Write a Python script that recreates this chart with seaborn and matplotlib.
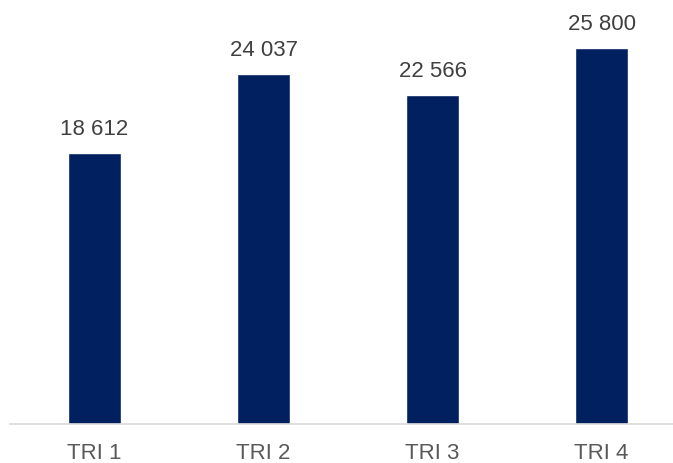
import matplotlib
matplotlib.use("Agg")
import matplotlib.pyplot as plt
import seaborn as sns
import pandas as pd

# -- data --
quarters = ["TRI 1", "TRI 2", "TRI 3", "TRI 4"]
values = [18612, 24037, 22566, 25800]

sns.set_style("white")
plt.rcParams["font.family"] = ["Liberation Sans", "DejaVu Sans"]

df = pd.DataFrame({"quarter": quarters, "value": values})

fig = plt.figure(figsize=(6.73, 4.64), dpi=100)
ax = fig.add_axes([10 / 673, 39 / 464, 663 / 673, 425 / 464])

sns.barplot(data=df, x="quarter", y="value", ax=ax, color="#002060",
            saturation=1, width=0.31)

for i, v in enumerate(values):
    ax.annotate(f"{v:,}".replace(",", " "), (i, v), xytext=(0, 10),
                textcoords="offset points", ha="center", va="bottom",
                fontsize=16, color="#404040")

ax.set_xlim(-0.5, 3.423)
ax.set_ylim(0, 29160)
ax.set_xlabel("")
ax.set_ylabel("")
ax.set_yticks([])
for s in ["top", "right", "left"]:
    ax.spines[s].set_visible(False)
ax.spines["bottom"].set_color("#d9d9d9")
ax.spines["bottom"].set_linewidth(1.2)
ax.tick_params(axis="x", length=0, pad=13, labelsize=16, labelcolor="#595959")

fig.savefig("out.png", dpi=100)
